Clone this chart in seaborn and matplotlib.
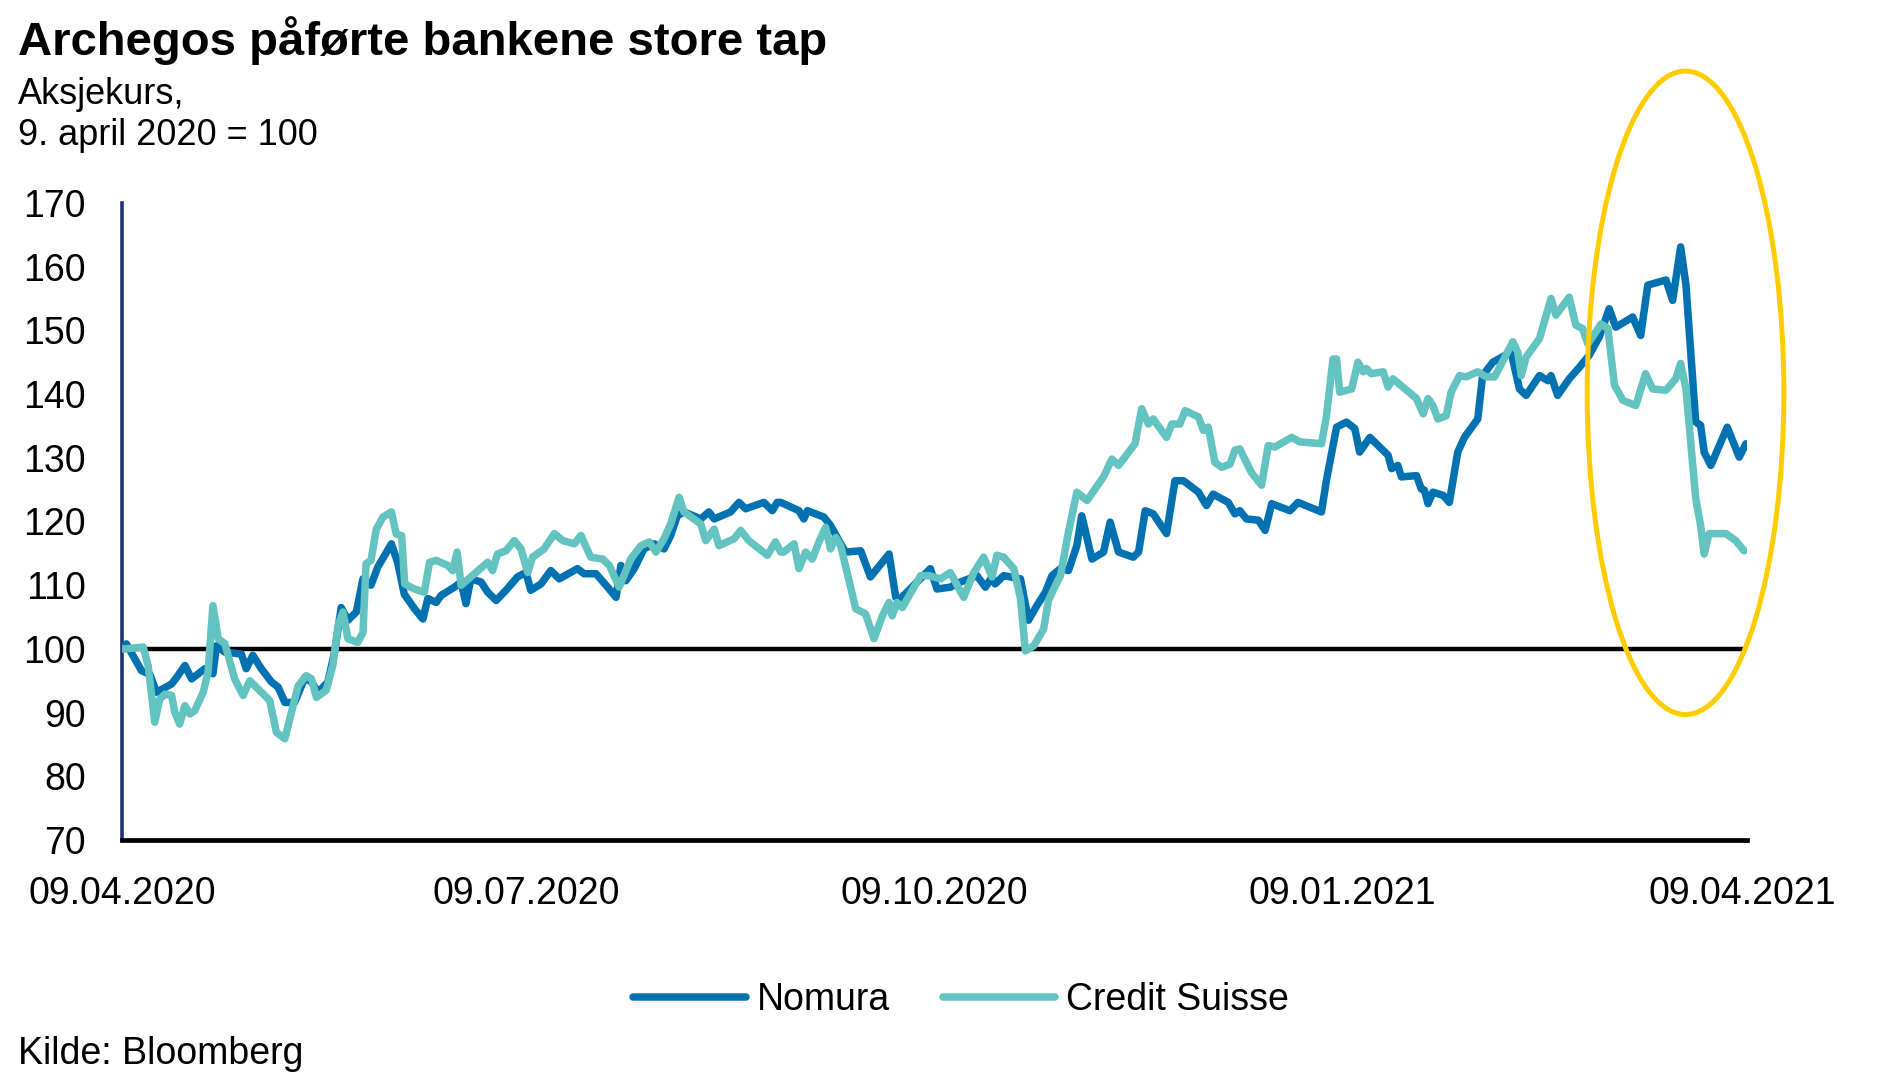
import pandas as pd
import matplotlib.pyplot as plt
import matplotlib.dates as mdates
from matplotlib.patches import Ellipse
import seaborn as sns

# Days since 09.04.2020 and index values
nomura_day = [0, 1, 4.4, 6.3, 7.8, 11.2, 12.3, 14.2, 15.7, 18.7, 20.5, 21.3, 23.2, 26.9, 28, 29.5,
              31.4, 33.7, 35.2, 36.7, 38.9, 41.2, 42.7, 44.2, 46.4, 47.9, 49.4, 50.9, 52.8, 54.3,
              56.1, 57.6, 60.7, 62.1, 63.6, 65.9, 67.8, 68.9, 70.8, 71.9, 74.9, 76.4, 77.5, 78.6,
              80.9, 82.4, 84.3, 86.5, 89.1, 91, 92.1, 94.4, 96.6, 98.5, 102.6, 104.1, 106.8, 109.4,
              111.3, 112.4, 113.5, 115.4, 117.6, 119.9, 122.1, 123.6, 125.1, 126.6, 130.4, 132.2,
              133.4, 137.1, 139, 140.5, 144.6, 146.5, 147.6, 148.4, 152.5, 153.6, 154.4, 158.1,
              159.6, 161.5, 163, 166.4, 168.6, 172.8, 174.3, 175.4, 182.1, 183.6, 186.6, 188.9,
              192.6, 194.5, 196, 196.7, 198.6, 202.4, 204.2, 206.1, 208, 209.5, 211.4, 213.2,
              215.1, 216.2, 218.5, 221.1, 222.6, 224.5, 227.8, 229, 230.5, 232.3, 235.3, 237.2,
              239.1, 242.5, 244.3, 245.8, 249.2, 250.7, 251.8, 253.3, 256, 257.5, 259, 260.8,
              263.1, 264.9, 270.2, 271.3, 273.6, 275.8, 277.7, 278.8, 281.1, 285.2, 286, 287.4,
              288.2, 291.6, 292.7, 293.4, 294.2, 295.3, 297.6, 299, 300.9, 302.4, 305.4, 306.5,
              308.8, 312.9, 314.8, 316.3, 319.3, 321.2, 321.9, 323.4, 326, 328.3, 330.5, 332.8,
              335, 336.5, 340.3, 342.1, 343.7, 347.8, 349.3, 351.1, 352.3, 354.5, 355.6, 356.4,
              357.9, 361.6, 364.3, 365.8]
nomura_val = [100, 100.8, 96.6, 96, 93.2, 94.5, 95.5, 97.4, 95.3, 96.9, 96.1, 100.5, 99.5, 99.2, 96.9, 99,
              96.9, 94.8, 94, 91.6, 91.6, 95.5, 94.8, 93.2, 94.8, 99.5, 106.5, 104.5, 105.8, 111,
              110, 112.8, 116.5, 113.6, 108.6, 106.3, 104.7, 107.9, 107.3, 108.4, 109.7, 110.5, 107.1, 111,
              110.5, 108.9, 107.6, 109.2, 111.3, 112, 109.2, 110.2, 112.3, 111, 112.6, 111.8, 111.8, 109.7,
              108.1, 113.1, 110.7, 112.6, 115.7, 116.5, 115.7, 117.8, 120.9, 121.5, 120.4, 121.5,
              120.4, 121.5, 123, 122, 123, 121.7, 123, 123, 121.7, 120.4, 121.7, 120.7,
              119.4, 117, 115.2, 115.4, 111.3, 114.9, 108.1, 107.9, 112.6, 109.4, 109.7, 110.5,
              111.5, 109.7, 111.3, 110.2, 111.5, 111, 104.5, 106.8, 108.9, 111.5, 112.6, 112.3,
              116.2, 120.9, 114.1, 115.2, 119.9, 115.2, 114.4, 115.2, 121.7, 121.2, 118.1, 126.4,
              126.4, 124.6, 122.5, 124.3, 123, 121.2, 121.7, 120.4, 120.2, 118.6, 122.8, 122.3,
              121.7, 123, 121.5, 126.4, 134.8, 135.6, 134.6, 130.9, 133.2, 130.4, 128.3, 128.8,
              127, 127.2, 125.1, 124.9, 122.8, 124.6, 124.1, 123, 130.9, 133.2, 136.1, 142.9,
              145, 146.6, 140.8, 139.8, 142.9, 142.1, 142.9, 139.8, 142.4, 144.2, 146.1, 149,
              153.4, 150.5, 152.1, 149.2, 157.1, 157.9, 154.7, 163.1, 157.1, 135.6, 135.1, 130.9,
              128.8, 134.8, 130.1, 132.2]

cs_day = [0, 0.7, 4.8, 5.9, 7.4, 8.5, 9.7, 11.2, 11.9, 13, 14.2, 15.3, 16.4, 18.3, 19.4, 20.5, 21.7,
          23.2, 25.4, 27.3, 28.8, 31.4, 33.3, 34.8, 36.7, 38.2, 39.7, 41.5, 42.7, 43.8, 46, 47.5,
          48.7, 49.8, 50.9, 53.1, 54.3, 55, 56.1, 57.3, 58.8, 60.7, 61.8, 63, 63.7, 65.9, 68.1,
          69.3, 70.8, 73.4, 74.5, 75.5, 76.4, 78.6, 82.4, 83.5, 84.6, 86.5, 88.4, 89.9, 91.4,
          92.5, 95.1, 97.4, 99.3, 101.9, 103.4, 105.6, 108.3, 109.8, 112, 114.6, 116.9, 118.8,
          120.3, 122.1, 123.6, 125.5, 126.6, 130.4, 131.5, 133.4, 134.5, 137.9, 139.4, 141.2,
          145.4, 147.2, 148.4, 149.1, 151.4, 152.5, 154, 155.5, 157, 158.5, 159.6, 160.8, 161.9,
          165.3, 167.5, 169.4, 171.3, 172.8, 173.5, 174.6, 175.8, 179.9, 181.8, 184.4, 186.6,
          189.6, 191.9, 194.1, 196, 197.1, 198.6, 200.9, 202.4, 203.5, 205.4, 207.6, 208.7,
          209.9, 211.4, 213.2, 215.1, 217.4, 221.1, 223, 224.5, 228.2, 229.7, 231.2, 232.3,
          235.3, 236.5, 238.3, 239.5, 242.5, 243.6, 244.7, 246.2, 247.7, 249.6, 250.7, 251.8,
          254.4, 256.7, 258.2, 259.7, 263.5, 265.3, 270.2, 271.3, 272.8, 273.6, 274.3, 277,
          278.4, 279.6, 280.3, 281.4, 284.1, 285.2, 286.3, 291.6, 293.1, 294.2, 295.3, 296.4,
          298.3, 299.4, 301.3, 302.8, 305.4, 307.3, 309.2, 313.3, 314.4, 315.2, 316.3, 319.3,
          321.9, 323, 326, 327.5, 329, 330.2, 333.2, 334.7, 336.2, 338.1, 341, 343.2, 344.8,
          347.8, 350, 351.1, 352.3, 354.5, 355.6, 356.4, 357.5, 361.3, 363.5, 365.4]
cs_val = [100, 100, 100.3, 97.4, 88.5, 92.1, 92.9, 92.7, 90.1, 88.2, 91.1, 89.8, 90.3, 93.2, 96.3, 106.8, 101.6,
          100.8, 95.3, 92.7, 95, 93.2, 91.9, 86.9, 85.9, 90.1, 94.2, 95.8, 95.3, 92.4, 93.5, 97.4,
          103.7, 105.8, 101.6, 101, 102.6, 113.4, 113.9, 118.8, 120.7, 121.5, 118, 117.8, 110.2, 109.4, 108.9,
          113.6, 113.9, 113.1, 112.3, 115.2, 110, 111.3, 113.6, 112.3, 114.9, 115.4, 117, 115.7, 112,
          114.4, 115.7, 118.1, 117, 116.5, 117.8, 114.4, 114.1, 113.1, 109.7, 114.1, 116.2, 116.8,
          115.2, 117.3, 119.6, 123.8, 121.5, 119.6, 117, 118.8, 116.2, 117.3, 118.6, 117,
          114.7, 116.8, 115.2, 115.2, 116.5, 112.6, 115.2, 114.1, 116.8, 119.1, 115.7, 117.5, 116.2,
          106.3, 105.5, 101.6, 105.2, 107.3, 105.2, 107.3, 106.5, 111.5, 111.5, 111, 112,
          108.1, 112, 114.4, 111.3, 114.7, 114.4, 112.6, 107.9, 99.7, 100.5, 103.1, 107.6,
          109.4, 111.5, 118.3, 124.6, 123.3, 127, 129.8, 128.8, 132.2, 137.7, 135.3, 136.1,
          133.2, 135.3, 135.3, 137.4, 136.4, 134.3, 134.8, 129.3, 128.5, 129, 131.2, 131.4,
          127.7, 125.7, 131.9, 131.7, 133.2, 132.5, 132.2, 136.4, 145.5, 145.5, 140.3, 140.8,
          145, 143.5, 144, 143.2, 143.5, 141.1, 142.4, 139.3, 136.9, 139.3, 138.2, 136.1,
          136.6, 140.3, 142.9, 142.7, 143.5, 142.7, 142.7, 148.2, 146.6, 142.9, 145.8, 148.7,
          155, 152.4, 155.2, 150.8, 150.3, 147.9, 151, 150.3, 141.4, 139, 138.2, 143.2, 140.8,
          140.6, 142.4, 144.8, 140.8, 123.6, 119.4, 114.9, 118.1, 118.1, 117, 115.4]

start = pd.Timestamp('2020-04-09')
df = pd.concat([
    pd.DataFrame({'dato': start + pd.to_timedelta(nomura_day, unit='D'), 'kurs': nomura_val, 'bank': 'Nomura'}),
    pd.DataFrame({'dato': start + pd.to_timedelta(cs_day, unit='D'), 'kurs': cs_val, 'bank': 'Credit Suisse'}),
])

sns.set_style('white')
plt.rcParams['font.family'] = ['Liberation Sans', 'DejaVu Sans']
plt.rcParams['text.color'] = 'black'
plt.rcParams['xtick.color'] = 'black'
plt.rcParams['ytick.color'] = 'black'

fig = plt.figure(figsize=(18.96, 10.91), dpi=100)
ax = fig.add_axes([0.0643, 0.230, 0.857, 0.584])

colors = {'Nomura': '#0072B2', 'Credit Suisse': '#63C3C1'}
sns.lineplot(data=df, x='dato', y='kurs', hue='bank', palette=colors, linewidth=5.4,
             ax=ax, legend=False, sort=False, zorder=3)
ax.axhline(100, color='black', linewidth=3.2, zorder=2)

ax.set_xlim(start, start + pd.Timedelta(days=366))
ax.set_ylim(70, 170)
ax.set_yticks(range(70, 171, 10))
ticks = [pd.Timestamp(d) for d in ['2020-04-09', '2020-07-09', '2020-10-09', '2021-01-09', '2021-04-09']]
ax.set_xticks(ticks)
ax.xaxis.set_major_formatter(mdates.DateFormatter('%d.%m.%Y'))
ax.tick_params(axis='both', length=0, labelsize=27)
ax.tick_params(axis='y', pad=26)
ax.tick_params(axis='x', pad=26)
ax.set_xlabel('')
ax.set_ylabel('')

for s in ['top', 'right']:
    ax.spines[s].set_visible(False)
ax.spines['left'].set_color('#25326E')
ax.spines['left'].set_linewidth(2.6)
ax.spines['bottom'].set_color('black')
ax.spines['bottom'].set_linewidth(3.4)

# yellow ring around the March 2021 drop
centre = mdates.date2num(start + pd.Timedelta(days=352.2))
ax.add_patch(Ellipse((centre, 140.2), width=44.3, height=101, fill=False,
                     edgecolor='#FFCC00', linewidth=3.6, clip_on=False, zorder=4))

fig.text(0.0095, 0.963, 'Archegos påførte bankene store tap', fontsize=34, fontweight='bold',
         va='center', ha='left')
fig.text(0.0095, 0.913, 'Aksjekurs,', fontsize=26, va='center', ha='left')
fig.text(0.0095, 0.876, '9. april 2020 = 100', fontsize=26, va='center', ha='left')
fig.text(0.0095, 0.034, 'Kilde: Bloomberg', fontsize=27, va='center', ha='left')

handles = [plt.Line2D([], [], color=colors['Nomura'], linewidth=5.4),
           plt.Line2D([], [], color=colors['Credit Suisse'], linewidth=5.4, solid_capstyle='round')]
fig.legend(handles, ['Nomura', 'Credit Suisse'], loc='center', bbox_to_anchor=(0.507, 0.083),
           ncol=2, frameon=False, fontsize=27, handlelength=3.0, handletextpad=0.3, columnspacing=1.4)

fig.savefig('out.png', dpi=100)
